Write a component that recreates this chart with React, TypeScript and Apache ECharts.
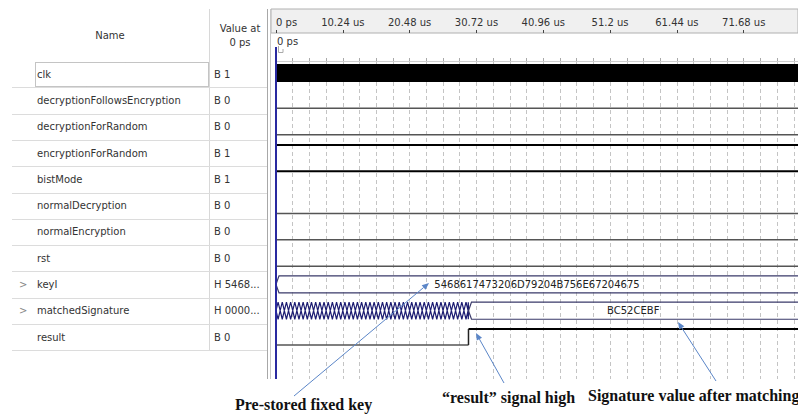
import React, { useEffect, useRef } from "react";
import * as echarts from "echarts";

// ---- data ----
const signalNames = [
  "clk",
  "decryptionFollowsEncryption",
  "decryptionForRandom",
  "encryptionForRandom",
  "bistMode",
  "normalDecryption",
  "normalEncryption",
  "rst",
  "keyI",
  "matchedSignature",
  "result",
];
const valuesAtZero = ["B 1", "B 0", "B 0", "B 1", "B 1", "B 0", "B 0", "B 0", "H 5468...", "H 0000...", "B 0"];
const signalKinds = ["clock", "bit", "bit", "bit", "bit", "bit", "bit", "bit", "bus", "bus", "bit"];
const expandable = [false, false, false, false, false, false, false, false, true, true, false];

// bit waveforms: [start time (us), level]
const decryptionFollowsEncryptionWave: [number, number][] = [[0, 0]];
const decryptionForRandomWave: [number, number][] = [[0, 0]];
const encryptionForRandomWave: [number, number][] = [[0, 1]];
const bistModeWave: [number, number][] = [[0, 1]];
const normalDecryptionWave: [number, number][] = [[0, 0]];
const normalEncryptionWave: [number, number][] = [[0, 0]];
const rstWave: [number, number][] = [[0, 0]];
const resultWave: [number, number][] = [[0, 0], [29.5, 1]];

// bus waveforms: [start time (us), value]; "*" = value changing every cycle
const keyIBus: [number, string][] = [[0, "5468617473206D79204B756E67204675"]];
const matchedSignatureBus: [number, string][] = [[0, "*"], [29.5, "BC52CEBF"]];
const busChangePeriodUs = 0.64;

const timeTickLabels = ["0 ps", "10.24 us", "20.48 us", "30.72 us", "40.96 us", "51.2 us", "61.44 us", "71.68 us"];
const majorTickUs = 10.24;
const minorTickUs = 2.56;
const timeMaxUs = 80;

const waves: Record<number, any> = {
  1: decryptionFollowsEncryptionWave,
  2: decryptionForRandomWave,
  3: encryptionForRandomWave,
  4: bistModeWave,
  5: normalDecryptionWave,
  6: normalEncryptionWave,
  7: rstWave,
  8: keyIBus,
  9: matchedSignatureBus,
  10: resultWave,
};

// ---- layout ----
const UI_FONT = "DejaVu Sans";
const SERIF = "Liberation Serif";
const WAVE_LEFT = 276;
const WAVE_TOP = 61;
const WAVE_BOTTOM = 379;
const ROW_H = 26.3;

function arrow(x1: number, y1: number, x2: number, y2: number) {
  const ang = Math.atan2(y2 - y1, x2 - x1);
  const L = 7, W = 3;
  const bx = x2 - L * Math.cos(ang), by = y2 - L * Math.sin(ang);
  const px = -Math.sin(ang) * W, py = Math.cos(ang) * W;
  return [
    { type: "line", shape: { x1, y1, x2: bx, y2: by }, style: { stroke: "#5b86c8", lineWidth: 1 }, z: 20 },
    {
      type: "polygon",
      shape: { points: [[x2, y2], [bx + px, by + py], [bx - px, by - py]] },
      style: { fill: "#5b86c8" },
      z: 20,
    },
  ];
}

function buildGraphic() {
  const g: any[] = [];
  // waveform header bar
  g.push({ type: "rect", shape: { x: 271, y: 9, width: 527, height: 24 }, style: { fill: "#f0f0f0", stroke: "#b0b0b0", lineWidth: 1 }, z: -10 });
  // left header
  g.push({ type: "text", style: { text: "Name", x: 110, y: 35, align: "center", verticalAlign: "middle", fill: "#333", font: `10px "${UI_FONT}"` } });
  g.push({ type: "text", style: { text: "Value at", x: 240, y: 28, align: "center", verticalAlign: "middle", fill: "#333", font: `10px "${UI_FONT}"` } });
  g.push({ type: "text", style: { text: "0 ps", x: 240, y: 42, align: "center", verticalAlign: "middle", fill: "#333", font: `10px "${UI_FONT}"` } });
  // column divider lines
  g.push({ type: "line", shape: { x1: 209.5, y1: 9, x2: 209.5, y2: WAVE_TOP + ROW_H * signalNames.length }, style: { stroke: "#d8d8d8", lineWidth: 1 } });
  g.push({ type: "line", shape: { x1: 267.5, y1: 9, x2: 267.5, y2: WAVE_BOTTOM }, style: { stroke: "#a8a8a8", lineWidth: 1 } });
  g.push({ type: "line", shape: { x1: 270.5, y1: 9, x2: 270.5, y2: WAVE_BOTTOM }, style: { stroke: "#c8c8c8", lineWidth: 1 } });
  // rows of the name panel
  signalNames.forEach((name, i) => {
    const yc = WAVE_TOP + ROW_H * (i + 0.5);
    const yb = Math.round(WAVE_TOP + ROW_H * (i + 1)) + 0.5;
    g.push({ type: "line", shape: { x1: 12, y1: yb, x2: 267, y2: yb }, style: { stroke: "#dcdcdc", lineWidth: 1 } });
    g.push({ type: "text", style: { text: name, x: 37, y: yc, align: "left", verticalAlign: "middle", fill: "#333", font: `10px "${UI_FONT}"` } });
    g.push({ type: "text", style: { text: valuesAtZero[i], x: 214, y: yc, align: "left", verticalAlign: "middle", fill: "#333", font: `10px "${UI_FONT}"` } });
    if (expandable[i]) {
      g.push({ type: "text", style: { text: ">", x: 19, y: yc, align: "left", verticalAlign: "middle", fill: "#888", font: `10px "${UI_FONT}"` } });
    }
  });
  // focus box on first row
  g.push({ type: "rect", shape: { x: 35.5, y: 62.5, width: 173, height: 24 }, style: { fill: "none", stroke: "#888", lineWidth: 1, lineDash: [1, 1] } });
  // cursor
  g.push({ type: "text", style: { text: "0 ps", x: 277, y: 41, align: "left", verticalAlign: "middle", fill: "#333", font: `10px "${UI_FONT}"` } });
  g.push({ type: "polyline", shape: { points: [[278.5, 46], [278.5, 52.5], [283, 52.5], [283, 49]] }, style: { stroke: "#aaa", lineWidth: 1, fill: "none" } });
  g.push({ type: "line", shape: { x1: 276, y1: 47, x2: 276, y2: WAVE_BOTTOM }, style: { stroke: "#2a2aa0", lineWidth: 2 }, z: 15 });
  // annotations
  g.push(...arrow(294, 396, 429, 283));
  g.push(...arrow(504, 383, 476, 333));
  g.push(...arrow(716, 381, 678, 322));
  g.push({ type: "text", style: { text: "Pre-stored fixed key", x: 235, y: 404, align: "left", verticalAlign: "middle", fill: "#111", font: `bold 16px "${SERIF}"` } });
  g.push({ type: "text", style: { text: "\u201Cresult\u201D signal high", x: 442, y: 397, align: "left", verticalAlign: "middle", fill: "#111", font: `bold 16px "${SERIF}"` } });
  g.push({ type: "text", style: { text: "Signature value after matching", x: 588, y: 395, align: "left", verticalAlign: "middle", fill: "#111", font: `bold 16px "${SERIF}"` } });
  return g;
}

function renderItem(params: any, api: any) {
  const row = api.value(0);
  const kind = signalKinds[row];
  const X = (t: number) => api.coord([t, row])[0];
  const Y = (f: number) => api.coord([0, row + f])[1];
  const children: any[] = [];
  if (kind === "clock") {
    const x0 = X(0), x1 = X(timeMaxUs);
    const y0 = Y(0.11), y1 = Y(0.8);
    children.push({ type: "rect", shape: { x: x0, y: y0, width: x1 - x0, height: y1 - y0 }, style: { fill: "#000" } });
  } else if (kind === "bit") {
    const segs: [number, number][] = waves[row];
    let prevY: number | null = null;
    segs.forEach((s, k) => {
      const t0 = s[0];
      const t1 = k + 1 < segs.length ? segs[k + 1][0] : timeMaxUs;
      const high = s[1] === 1;
      const y = high ? Y(0.19) : Y(0.8);
      const stroke = high ? "#000" : "#555";
      const lw = high ? 2 : 1.5;
      children.push({ type: "line", shape: { x1: X(t0), y1: y, x2: X(t1), y2: y }, style: { stroke, lineWidth: lw } });
      if (prevY !== null) {
        children.push({ type: "line", shape: { x1: X(t0), y1: prevY, x2: X(t0), y2: y }, style: { stroke: "#222", lineWidth: 1.5 } });
      }
      prevY = y;
    });
  } else if (kind === "bus") {
    const segs: [number, string][] = waves[row];
    const yt = Y(0.17), yb = Y(0.82), ym = (yt + yb) / 2;
    const c = 3;
    segs.forEach((s, k) => {
      const t0 = s[0];
      const t1 = k + 1 < segs.length ? segs[k + 1][0] : timeMaxUs;
      const x0 = X(t0), x1 = X(t1);
      const open = t1 >= timeMaxUs;
      if (s[1] === "*") {
        const top: number[][] = [];
        const bot: number[][] = [];
        for (let t = t0; t < t1 - 1e-9; t += busChangePeriodUs) {
          const xa = X(t);
          const xb = X(Math.min(t + busChangePeriodUs, t1));
          const h = Math.min(c, (xb - xa) / 2);
          top.push([xa, ym], [xa + h, yt], [xb - h, yt]);
          bot.push([xa, ym], [xa + h, yb], [xb - h, yb]);
        }
        top.push([x1, ym]);
        bot.push([x1, ym]);
        children.push({ type: "polyline", shape: { points: top }, style: { stroke: "#1c1c72", lineWidth: 1.2, fill: "none" } });
        children.push({ type: "polyline", shape: { points: bot }, style: { stroke: "#1c1c72", lineWidth: 1.2, fill: "none" } });
      } else {
        const topPts = [[x0, ym], [x0 + c, yt], [open ? x1 : x1 - c, yt]];
        const botPts = [[x0, ym], [x0 + c, yb], [open ? x1 : x1 - c, yb]];
        if (!open) { topPts.push([x1, ym]); botPts.push([x1, ym]); }
        children.push({ type: "polyline", shape: { points: topPts }, style: { stroke: "#3a3a6a", lineWidth: 1.2, fill: "none" } });
        children.push({ type: "polyline", shape: { points: botPts }, style: { stroke: "#3a3a6a", lineWidth: 1.2, fill: "none" } });
        children.push({
          type: "text",
          style: { text: s[1], x: (x0 + x1) / 2, y: ym, align: "center", verticalAlign: "middle", fill: "#222", font: `10px "${UI_FONT}"` },
        });
      }
    });
  }
  return { type: "group", children };
}

export default function App() {
  const ref = useRef<HTMLDivElement>(null);
  useEffect(() => {
    if (!ref.current) return;
    const chart = echarts.init(ref.current, undefined, { renderer: "svg" });
    const option: any = {
      animation: false,
      backgroundColor: "#ffffff",
      grid: [
        { left: WAVE_LEFT, right: 0, top: WAVE_TOP, height: WAVE_BOTTOM - WAVE_TOP },
        { left: WAVE_LEFT, right: 0, top: 9, height: 24 },
      ],
      xAxis: [
        {
          gridIndex: 0, type: "value", min: 0, max: timeMaxUs, interval: minorTickUs, position: "bottom",
          axisLine: { show: false }, axisTick: { show: false }, axisLabel: { show: false },
          splitLine: { show: true, lineStyle: { color: "#c4c4c4", type: [4, 3], width: 1 } },
        },
        {
          gridIndex: 1, type: "value", min: 0, max: timeMaxUs, interval: majorTickUs, position: "bottom",
          axisLine: { show: false },
          axisTick: { show: true, inside: true, length: 3, lineStyle: { color: "#444" } },
          axisLabel: {
            inside: true, margin: 6, showMaxLabel: false, alignMinLabel: "left",
            color: "#333", fontFamily: UI_FONT, fontSize: 10,
            formatter: (v: number) => timeTickLabels[Math.round(v / majorTickUs)] ?? "",
          },
          splitLine: { show: false },
        },
        {
          gridIndex: 0, type: "value", min: 0, max: timeMaxUs, interval: minorTickUs, position: "top",
          axisLine: { show: true, lineStyle: { color: "#cfcfcf" } },
          axisTick: { show: true, length: 3, lineStyle: { color: "#aaa" } },
          axisLabel: { show: false }, splitLine: { show: false },
        },
      ],
      yAxis: [
        { gridIndex: 0, type: "value", inverse: true, min: 0, max: (WAVE_BOTTOM - WAVE_TOP) / ROW_H, show: false, splitLine: { show: false } },
        { gridIndex: 1, type: "value", min: 0, max: 1, show: false, splitLine: { show: false } },
      ],
      series: [
        {
          type: "custom", xAxisIndex: 0, yAxisIndex: 0, clip: true,
          data: signalNames.map((_, i) => [i]),
          renderItem,
        },
      ],
      graphic: buildGraphic(),
    };
    chart.setOption(option);
    return () => chart.dispose();
  }, []);
  return <div ref={ref} style={{ position: "fixed", left: 0, top: 0, width: 798, height: 415, background: "#fff" }} />;
}
